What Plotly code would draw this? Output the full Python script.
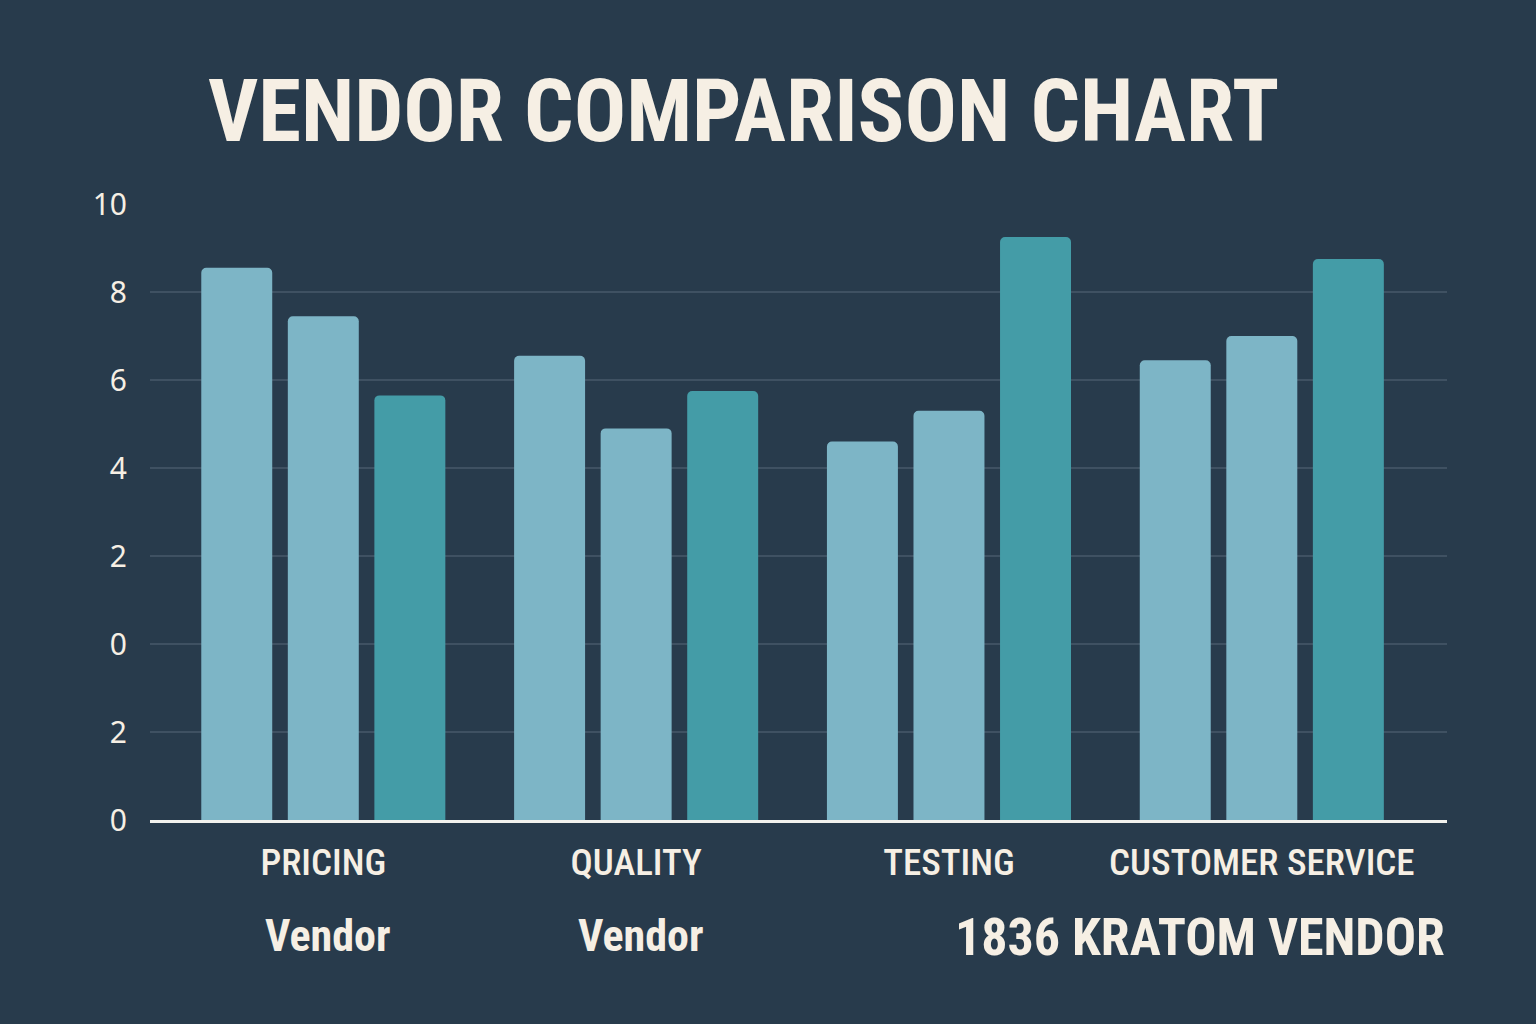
"""Vendor comparison chart: scores of three vendors across four criteria."""

import plotly.graph_objects as go

# data (axis units; tick labels are printed as in the picture)
categories = ["PRICING", "QUALITY", "TESTING", "CUSTOMER SERVICE"]
vendor_names = ["Vendor", "Vendor", "1836 KRATOM VENDOR"]
vendor_a = [12.55, 10.55, 8.6, 10.45]
vendor_b = [11.45, 8.9, 9.3, 11.0]
vendor_1836 = [9.65, 9.75, 13.25, 12.75]
tick_values = [0, 2, 4, 6, 8, 10, 12, 14]
tick_labels = ["0", "2", "0", "2", "4", "6", "8", "10"]

BG = "#283b4c"
CREAM = "#f6efe4"
LIGHT = "#7db5c6"
TEAL = "#449ca7"
NARROW = "Noto Sans Condensed, Roboto Condensed, DejaVu Sans Condensed, sans-serif"


def main():
    fig = go.Figure()
    series = [vendor_a, vendor_b, vendor_1836]
    colors = [LIGHT, LIGHT, TEAL]
    for name, values, color in zip(vendor_names, series, colors):
        fig.add_trace(go.Bar(
            x=categories,
            y=values,
            name=name,
            marker={"color": color, "line": {"width": 0}},
            showlegend=False,
        ))

    fig.update_layout(
        width=1536,
        height=1024,
        paper_bgcolor=BG,
        plot_bgcolor=BG,
        margin={"l": 150, "r": 89, "t": 204, "b": 204},
        barmode="group",
        bargap=0.17,
        bargroupgap=0.18,
        barcornerradius=5,
        title={
            "text": "<b>VENDOR COMPARISON CHART</b>",
            "x": 208 / 1536,
            "xanchor": "left",
            "y": 1 - 111 / 1024,
            "yanchor": "middle",
            "font": {"family": NARROW, "size": 87, "color": CREAM},
        },
        font={"family": NARROW, "color": CREAM},
    )

    fig.update_xaxes(
        range=[-0.554, 3.592],
        showgrid=False,
        showline=True,
        linecolor="#f2f2ee",
        linewidth=3,
        ticks="",
        ticklabelstandoff=8,
        tickfont={"family": NARROW, "size": 37, "color": CREAM, "weight": 500},
    )
    fig.update_yaxes(
        range=[0, 14],
        tickvals=tick_values,
        ticktext=tick_labels,
        showgrid=True,
        gridcolor="#3f5162",
        gridwidth=1.5,
        zeroline=False,
        showline=False,
        ticks="",
        ticklabelstandoff=22,
        tickfont={"family": "Noto Sans, sans-serif", "size": 30, "color": CREAM},
    )

    # vendor names written below the category labels
    for pos, name in enumerate(vendor_names[:2]):
        fig.add_annotation(
            x=categories[pos], xref="x", y=-116 / 616, yref="paper",
            text=f"<b>{name}</b>", showarrow=False, xanchor="center",
            xshift=4, yanchor="middle",
            font={"family": NARROW, "size": 44, "color": CREAM},
        )
    fig.add_annotation(
        x=1.0, xref="paper", y=-117 / 616, yref="paper",
        text=f"<b>{vendor_names[2]}</b>", showarrow=False, xanchor="right",
        yanchor="middle", font={"family": NARROW, "size": 52, "color": CREAM},
    )

    fig.write_html(
        "out.html",
        config={"displayModeBar": False},
        post_script="document.body.style.margin = '0';",
    )


if __name__ == "__main__":
    main()
